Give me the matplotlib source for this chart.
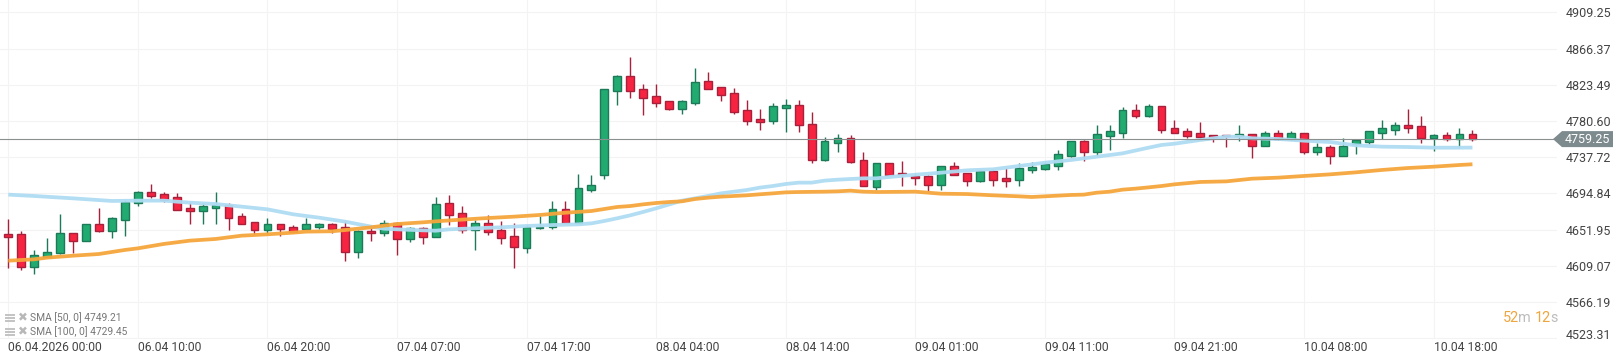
import matplotlib
matplotlib.use("Agg")
import matplotlib.pyplot as plt
from matplotlib.patches import Polygon, Rectangle
from matplotlib.transforms import IdentityTransform, ScaledTranslation

plt.rcParams['font.family'] = ['Roboto', 'DejaVu Sans']

opens = [4646.9,4646.5,4608.2,4620.0,4624.4,4647.7,4639.0,4658.3,4650.8,4663.9,4683.2,4696.2,4693.9,4690.3,4677.3,4674.5,4678.1,4681.2,4667.8,4660.7,
         4652.0,4658.3,4654.8,4653.2,4655.6,4658.3,4654.8,4625.2,4650.1,4648.5,4660.3,4641.4,4653.6,4643.7,4683.2,4671.4,4651.2,4659.5,4651.2,4644.1,
         4630.7,4654.0,4654.8,4676.1,4660.3,4699.4,4717.2,4816.6,4833.6,4818.2,4809.9,4804.0,4795.3,4802.4,4827.7,4820.6,4813.4,4793.3,4782.7,4781.1,
         4796.5,4799.3,4776.8,4734.9,4755.0,4760.2,4734.1,4702.9,4730.6,4718.7,4715.6,4715.2,4705.3,4727.0,4718.7,4710.0,4721.1,4712.8,4711.2,4723.0,
         4724.2,4727.8,4739.2,4756.6,4744.3,4763.3,4766.8,4793.3,4787.0,4798.0,4772.0,4768.4,4766.0,4763.7,4763.7,4762.9,4764.9,4751.5,4766.0,4759.0,
         4766.0,4744.3,4749.5,4739.6,4753.0,4756.2,4766.8,4770.4,4775.5,4774.3,4760.9,4763.7,4759.0,4764.9]
highs = [4664.3,4650.4,4628.0,4641.8,4670.6,4647.7,4658.3,4677.7,4666.6,4687.1,4697.4,4706.1,4696.2,4695.0,4685.2,4683.2,4696.6,4683.2,4671.4,4660.7,
         4665.8,4658.3,4657.5,4665.4,4659.5,4659.5,4662.7,4651.6,4655.6,4663.5,4661.5,4654.8,4655.6,4690.3,4693.1,4679.6,4663.5,4669.4,4662.7,4659.5,
         4657.5,4668.2,4686.0,4686.0,4717.9,4716.7,4818.2,4835.2,4856.1,4824.5,4824.5,4804.8,4805.6,4843.5,4838.7,4820.6,4819.4,4805.6,4794.9,4801.6,
         4806.4,4805.6,4791.0,4761.4,4764.9,4763.7,4743.6,4730.6,4730.6,4733.3,4718.7,4716.7,4727.0,4732.1,4718.7,4722.6,4723.4,4724.6,4730.6,4731.7,
         4732.5,4746.3,4756.6,4758.2,4775.9,4775.9,4796.9,4800.8,4800.4,4798.0,4781.9,4772.0,4779.5,4763.7,4763.7,4775.9,4764.9,4768.4,4770.0,4768.4,
         4766.0,4754.2,4751.9,4760.9,4757.8,4768.4,4781.9,4779.5,4794.9,4786.6,4764.9,4767.6,4772.4,4770.0]
lows = [4607.0,4604.7,4599.9,4619.3,4623.2,4624.4,4639.0,4649.7,4642.6,4644.9,4680.4,4689.5,4684.4,4675.7,4658.7,4658.7,4658.7,4651.6,4658.3,4646.9,
        4646.9,4644.9,4648.9,4653.2,4652.4,4648.5,4615.3,4618.5,4639.0,4644.9,4622.4,4637.8,4635.1,4643.7,4657.5,4648.5,4628.0,4646.1,4635.1,4607.0,
        4624.8,4652.4,4653.2,4659.5,4660.3,4697.0,4712.4,4799.6,4808.3,4788.2,4797.7,4793.7,4789.0,4799.6,4819.0,4804.8,4789.0,4776.4,4770.0,4777.5,
        4768.1,4768.1,4731.0,4733.7,4744.4,4731.4,4703.3,4699.0,4717.1,4703.7,4704.9,4697.8,4699.0,4717.1,4703.7,4708.8,4703.7,4702.9,4703.7,4719.5,
        4722.6,4723.0,4738.0,4733.3,4739.2,4746.3,4760.9,4784.6,4785.8,4766.8,4766.8,4760.9,4760.2,4756.2,4750.3,4757.4,4737.2,4751.5,4758.2,4758.2,
        4742.0,4740.8,4730.2,4739.6,4742.0,4753.8,4759.0,4764.5,4766.8,4755.0,4745.6,4757.4,4749.5,4757.4]
closes = [4643.7,4608.2,4621.6,4625.2,4647.7,4639.0,4658.3,4650.8,4665.4,4684.4,4696.2,4692.3,4687.1,4675.7,4674.5,4679.6,4681.6,4666.2,4659.1,4652.0,
          4658.3,4653.2,4649.7,4658.3,4658.3,4653.2,4625.2,4650.4,4647.7,4659.5,4641.4,4653.6,4643.7,4682.0,4669.8,4651.2,4659.5,4649.7,4642.6,4631.9,
          4654.8,4655.2,4676.1,4660.3,4701.0,4704.5,4818.2,4833.6,4816.6,4808.3,4802.4,4795.3,4804.0,4826.5,4819.0,4811.9,4791.8,4781.1,4779.9,4798.1,
          4799.3,4776.4,4734.9,4756.6,4760.2,4732.1,4703.3,4730.6,4717.1,4717.5,4713.6,4705.3,4727.0,4717.1,4710.0,4721.1,4711.2,4710.0,4724.6,4725.8,
          4729.3,4741.2,4756.6,4744.3,4764.9,4768.4,4793.3,4787.0,4798.0,4770.4,4766.8,4763.3,4762.1,4762.1,4762.9,4764.9,4751.5,4766.0,4759.0,4766.0,
          4744.3,4749.5,4739.6,4751.5,4757.8,4768.4,4772.0,4775.5,4772.8,4760.9,4763.7,4759.0,4764.9,4759.25]

sma50_idx = [0,2,5,8,10,12,14,16,18,20,22,24,26,28,29,30,32,33,34,36,38,40,42,44,45,46,47,48,49,50,52,53,54,55,56,57,58,59,60,61,62,63,64,65,66,67,
             68,70,72,74,76,78,80,82,84,86,88,89,90,92,94,95,96,98,100,102,104,106,108,110,112,113]
sma50 = [4693.5,4691.9,4689.1,4686.0,4686.4,4686.4,4684.0,4682.4,4679.3,4676.1,4670.2,4666.2,4661.5,4655.6,4653.2,4652.4,4651.2,4650.8,4652.4,4653.6,4654.8,4656.4,4657.5,4658.3,4659.5,
         4662.3,4665.5,4669.0,4673.0,4677.3,4686.4,4689.1,4691.9,4695.0,4697.0,4699.0,4701.8,4703.7,4706.1,4707.7,4707.7,4710.1,4711.2,4712.0,4712.8,4712.8,
         4714.4,4717.1,4719.5,4722.3,4723.5,4727.4,4731.3,4734.5,4738.4,4742.4,4749.1,4752.3,4753.8,4758.2,4762.1,4762.1,4760.2,4759.4,4757.4,4755.8,4751.9,4750.3,4749.9,4749.1,4749.1,4749.21]

sma100_idx = [0,2,3,5,7,9,10,12,14,16,18,20,22,23,25,26,28,30,32,33,35,37,39,41,43,45,46,47,48,49,50,51,52,53,54,55,56,57,58,59,60,61,63,64,65,66,67,
              70,71,72,74,76,78,79,80,82,83,84,85,86,87,88,89,90,92,94,96,98,100,102,104,106,108,110,112,113]
sma100 = [4615.3,4616.9,4618.9,4621.2,4623.2,4628.0,4629.9,4635.1,4639.0,4641.0,4644.9,4646.5,4648.5,4649.7,4650.1,4651.6,4654.8,4658.7,4660.7,4661.9,4663.9,4665.8,4667.4,4669.4,4672.1,4674.1,
          4676.5,4678.9,4680.0,4682.0,4683.6,4684.8,4685.6,4688.3,4689.9,4691.1,4691.9,4692.7,4693.9,4695.0,4696.2,4696.6,4697.0,4697.4,4698.2,4697.0,4696.6,
          4697.0,4695.8,4694.6,4694.2,4692.7,4691.5,4690.7,4691.5,4693.1,4693.5,4695.8,4697.0,4699.4,4700.6,4702.1,4703.7,4705.7,4708.5,4709.2,4712.4,4713.6,4715.6,4717.5,4719.9,4722.7,4725.0,4726.6,4728.6,4729.45]

price_ticks = [4909.25,4866.37,4823.49,4780.60,4737.72,4694.84,4651.95,4609.07,4566.19,4523.31]
time_idx = [0,10,20,30,40,50,60,70,80,90,100,110]
time_labels = ['06.04.2026 00:00','06.04 10:00','06.04 20:00','07.04 07:00','07.04 17:00','08.04 04:00',
               '08.04 14:00','09.04 01:00','09.04 11:00','09.04 21:00','10.04 08:00','10.04 18:00']
last_price = 4759.25
sma_labels = ['SMA [50, 0] 4749.21','SMA [100, 0] 4729.45']

W, H = 1616, 352
PX_PER_PRICE = 0.8445
STEP = 12.957
fig = plt.figure(figsize=(W/100, H/100), dpi=100, facecolor='white')
AX_R, AX_B = 1557, 339
ax = fig.add_axes([0, 1-AX_B/H, AX_R/W, AX_B/H])
ax.set_xlim(-8.3/STEP, (AX_R-8.3)/STEP)
ax.set_ylim(4694.84-(AX_B-193.5)/PX_PER_PRICE, 4694.84+193.5/PX_PER_PRICE)
for s in ax.spines.values():
    s.set_visible(False)
ax.set_axisbelow(True)
ax.grid(True, color='#f3f3f3', lw=0.8)
ax.yaxis.tick_right()
ax.set_yticks(price_ticks)
ax.set_yticklabels([f'{p:.2f}' for p in price_ticks], fontsize=9, color='#444444')
ax.set_xticks(time_idx)
ax.set_xticklabels(time_labels, fontsize=8.7, color='#444444', ha='left')
ax.tick_params(axis='both', length=0)
ax.tick_params(axis='y', pad=6)
ax.tick_params(axis='x', pad=1.5)
lbls = ax.get_yticklabels()
lbls[-1].set_transform(lbls[-1].get_transform()+ScaledTranslation(0, 4.5/100, fig.dpi_scale_trans))

GREEN, GREEN_E = '#22ab71', '#1c7a58'
RED, RED_E = '#f62440', '#a8203c'
for i, (o, h, l, c) in enumerate(zip(opens, highs, lows, closes)):
    up = c >= o
    edge = GREEN_E if up else RED_E
    ax.vlines(i, l, h, color=edge, lw=1, zorder=2)
    ax.bar(i, abs(c-o), bottom=min(o, c), width=0.6, color=GREEN if up else RED,
           edgecolor=edge, linewidth=1, zorder=3)

ax.plot(sma50_idx, sma50, color='#aedcf3', lw=2.7, alpha=0.95, zorder=4, solid_capstyle='butt')
ax.plot(sma100_idx, sma100, color='#f6a63c', lw=2.7, alpha=0.95, zorder=5, solid_capstyle='butt')

tip_x = 1553
ax.plot([ax.get_xlim()[0], (tip_x-8.3)/STEP], [last_price]*2, color='#8a8f8f', lw=0.8, zorder=6)

# current price tag
_, ty = ax.transData.transform((0, last_price))
tag = Polygon([(tip_x, ty), (1562, ty+8), (1613, ty+8), (1613, ty-8), (1562, ty-8)], closed=True,
              transform=IdentityTransform(), facecolor='#7d8a8e', edgecolor='none', zorder=7, clip_on=False)
fig.add_artist(tag)
fig.text(1565/W, ty/H, f'{last_price:.2f}', color='white', fontsize=9, va='center', ha='left', zorder=8)

# legend lines
for lab, yy in zip(sma_labels, [317.5, 331.5]):
    for dy in (-3, 0, 3):
        fig.add_artist(Rectangle((5, H-yy+dy-1), 10, 2, transform=IdentityTransform(), facecolor='#c4c4c4', edgecolor='none'))
    fig.text(18/W, 1-yy/H, '\u2716', fontsize=8.5, color='#b8b8b8', va='center', ha='left', family=['DejaVu Sans'])
    fig.text(30/W, 1-yy/H, lab, fontsize=7.4, color='#777777', va='center', ha='left')

# countdown
for part, col, px in [('52', '#eea63e', 1502.7), ('m', '#bcbcbc', 1518.3), ('12', '#eea63e', 1534.3), ('s', '#bcbcbc', 1550)]:
    fig.text(px/W, 1-318/H, part, fontsize=10.4, color=col, va='center', ha='left')

fig.savefig('out.png', dpi=100, facecolor='white')
